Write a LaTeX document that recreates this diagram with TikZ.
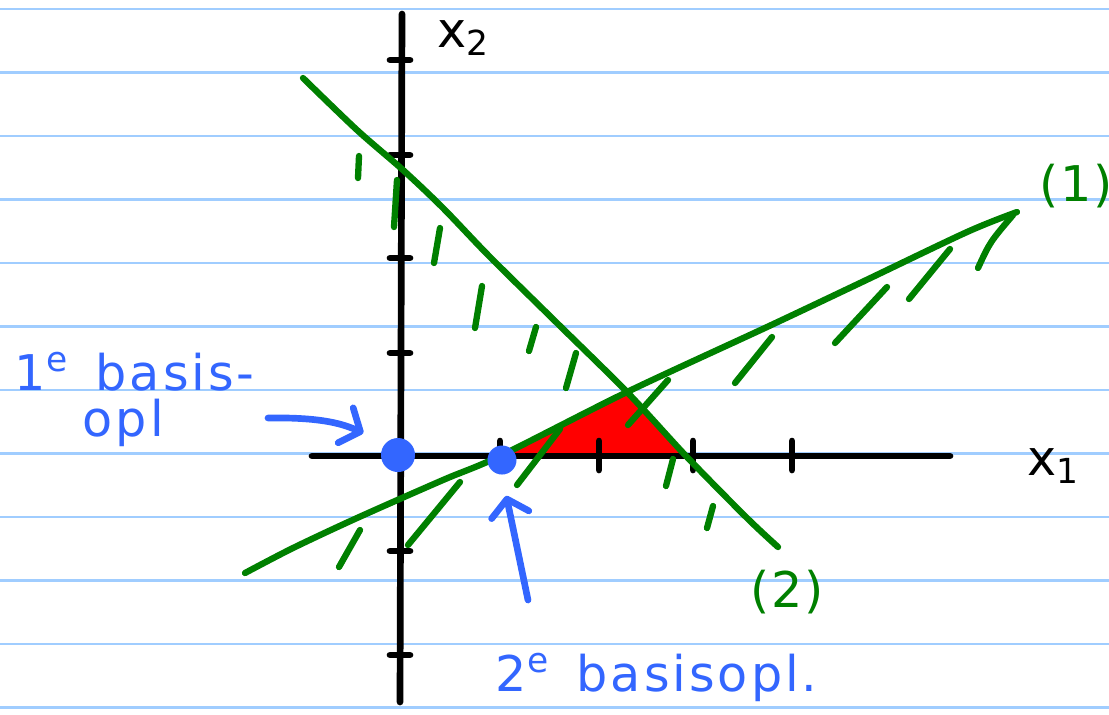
\documentclass[tikz,border=0pt]{standalone}
\usepackage{fontspec}
\setmainfont{DejaVu Sans}[LetterSpace=6]
\usetikzlibrary{arrows.meta}
\definecolor{penblue}{RGB}{51,102,255}
\definecolor{pengreen}{RGB}{0,128,0}
\definecolor{ruleblue}{RGB}{160,205,255}
\newcommand{\hand}{\fontsize{14}{17}\selectfont}

\begin{document}
\begin{tikzpicture}[x=0.01cm, y=-0.01cm,
		ruling/.style={ruleblue, line width=0.6pt},
		asline/.style={black, line width=1.9pt, line cap=round},
		lijn/.style={pengreen, line width=1.8pt, line cap=round, line join=round},
		arcering/.style={pengreen, line width=1.8pt, line cap=round},
		opl/.style={circle, fill=penblue, inner sep=0pt, minimum size=0.34cm},
		pijl/.style={penblue, line width=1.9pt, line cap=round, -{Straight Barb[length=0.16cm,width=0.38cm,round]}},
		bluetext/.style={penblue, font=\hand, inner sep=0pt, anchor=base west},
		greentext/.style={pengreen, font=\hand\addfontfeature{LetterSpace=3}, inner sep=0pt},
		blacktext/.style={black, font=\hand, inner sep=0pt}]
	
	\useasboundingbox (0,0) rectangle (1109,714);
	
	% lined paper
	\foreach \i in {0,...,11}
		\draw[ruling] (0,{9+63.5*\i}) -- (1109,{9+63.5*\i});
	
	% feasible region
	\fill[red] (500,457) -- (627,393) -- (688,457) -- cycle;
	
	% axes
	\draw[asline] (312,456) -- (950,456);
	\draw[asline] (402,14) -- (400,702);
	\foreach \t in {60,155,258,353,551,655}
		\draw[asline] (390,\t) -- (410,\t);
	\foreach \t in {500,599,693,792}
		\draw[asline] (\t,441) -- (\t,470);
	\node[blacktext] (xtwo) at (464,38) {x\textsubscript{2}};
	\node[blacktext] (xone) at (1054,466) {x\textsubscript{1}};
	
	% constraint (2)
	\draw[lijn] plot[smooth] coordinates {(303,78) (357,130) (403,170) (443,208) (490,257) (557,323) (627,392) (687,457) (747,518) (778,547)};
	\foreach \xa/\ya/\xb/\yb in {359/156/358/178, 397/180/394/227, 440/228/434/263, 482/286/475/328, 536/327/529/351, 576/353/566/388, 673/459/666/486, 713/506/707/528}
		\draw[arcering] (\xa,\ya) -- (\xb,\yb);
	\node[greentext] (lbtwo) at (787,592) {(2)};
	
	% constraint (1)
	\draw[lijn] plot[smooth] coordinates {(245,573) (293,548) (357,518) (443,480) (500,456) (627,392) (767,327) (860,283) (967,232) (1017,212)};
	\foreach \xa/\ya/\xb/\yb in {339/567/360/530, 408/545/460/482, 517/485/560/429, 628/425/668/380, 735/383/772/337, 835/343/887/287, 909/299/950/249}
		\draw[arcering] (\xa,\ya) -- (\xb,\yb);
	\draw[arcering] (978,268) .. controls (990,242) .. (1013,215);
	\node[greentext] (lbone) at (1076,186) {(1)};
	
	% basic solutions
	\node[opl] (eerste) at (398,455) {};
	\node[opl, minimum size=0.29cm] (tweede) at (502,460) {};
	
	\node[bluetext] (txteen) at (14,390) {1\textsuperscript{e}\, basis-};
	\node[bluetext] (txteenb) at (82,436) {opl};
	\coordinate (starteen) at (268,418);
	\draw[pijl, shorten >=0.24cm] (starteen) .. controls (325,417) and (345,425) .. (eerste.north west);
	
	\node[bluetext] (txttwee) at (495,691) {2\textsuperscript{e}\, basisopl.};
	\coordinate (starttwee) at (528,600);
	\draw[pijl, shorten >=0.21cm] (starttwee) -- (tweede.south);
	
\end{tikzpicture}
\end{document}
